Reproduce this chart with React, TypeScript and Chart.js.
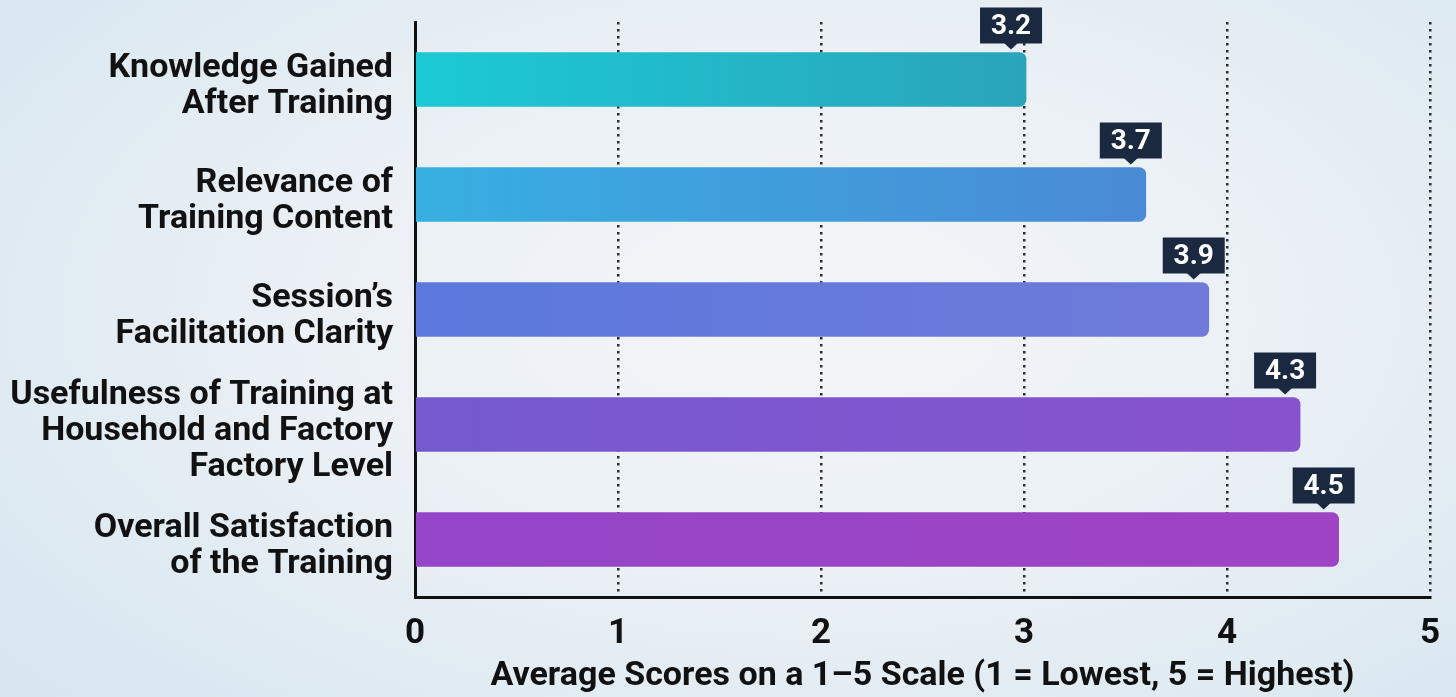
import React, { useEffect, useRef } from "react";
import { Chart, registerables } from "chart.js";

Chart.register(...registerables);

// ---------- data ----------
const categories: string[][] = [
  ["Knowledge Gained", "After Training"],
  ["Relevance of", "Training Content"],
  ["Session’s", "Facilitation Clarity"],
  ["Usefulness of Training at", "Household and Factory", "Factory Level"],
  ["Overall Satisfaction", "of the Training"],
];
// bar lengths as drawn in the picture
const barScores = [3.01, 3.6, 3.91, 4.36, 4.55];
// values printed in the callouts
const printedScores = ["3.2", "3.7", "3.9", "4.3", "4.5"];
const xMin = 0;
const xMax = 5;
const xStep = 1;
const axisTitle = "Average Scores on a 1–5 Scale (1 = Lowest, 5 = Highest)";
const barGradients: string[][] = [
  ["#1bcad5", "#2aa4ba"],
  ["#37afe1", "#4a8ad6"],
  ["#5b79dd", "#6f7ad9"],
  ["#7459cf", "#8752cd"],
  ["#9545c8", "#9e43c4"],
];

const FONT = "Roboto, 'Liberation Sans', sans-serif";

const calloutPlugin = {
  id: "callouts",
  afterDatasetsDraw(chart: any) {
    const meta = chart.getDatasetMeta(0);
    const ctx = chart.ctx as CanvasRenderingContext2D;
    meta.data.forEach((bar: any, i: number) => {
      const { x, y, height } = bar.getProps(["x", "y", "height"], true);
      const cx = x - 15;
      const top = y - height / 2;
      const boxH = 36;
      const boxW = 62;
      const boxBottom = top - 9;
      ctx.save();
      ctx.fillStyle = "#1a2940";
      ctx.fillRect(cx - boxW / 2, boxBottom - boxH, boxW, boxH);
      ctx.beginPath();
      ctx.moveTo(cx - 7, boxBottom - 0.5);
      ctx.lineTo(cx + 7, boxBottom - 0.5);
      ctx.lineTo(cx, boxBottom + 6);
      ctx.closePath();
      ctx.fill();
      ctx.fillStyle = "#ffffff";
      ctx.font = `bold 28px ${FONT}`;
      ctx.textAlign = "center";
      ctx.textBaseline = "middle";
      ctx.fillText(printedScores[i], cx, boxBottom - boxH / 2 + 1);
      ctx.restore();
    });
  },
};

export default function App() {
  const canvasRef = useRef<HTMLCanvasElement | null>(null);

  useEffect(() => {
    if (!canvasRef.current) return;
    const chart = new Chart(canvasRef.current, {
      type: "bar",
      data: {
        labels: categories as any,
        datasets: [
          {
            data: barScores,
            backgroundColor: (c: any) => {
              const ch = c.chart;
              const i = c.dataIndex ?? 0;
              const stops = barGradients[i] ?? barGradients[0];
              const xs = ch.scales && ch.scales.x;
              if (!ch.chartArea || !xs) return stops[0];
              const x0 = xs.getPixelForValue(0);
              const x1 = xs.getPixelForValue(barScores[i]);
              if (!isFinite(x0) || !isFinite(x1) || x1 <= x0) return stops[0];
              const g = ch.ctx.createLinearGradient(x0, 0, x1, 0);
              g.addColorStop(0, stops[0]);
              g.addColorStop(1, stops[1]);
              return g;
            },
            borderRadius: 7,
            borderSkipped: "start",
            barThickness: 54,
          } as any,
        ],
      },
      options: {
        indexAxis: "y",
        responsive: false,
        animation: false,
        layout: { padding: { top: 22, right: 26, left: 0, bottom: 0 } },
        plugins: {
          legend: { display: false },
          tooltip: { enabled: false },
        },
        scales: {
          x: {
            min: xMin,
            max: xMax,
            ticks: {
              stepSize: xStep,
              padding: 16,
              color: "#111111",
              font: { family: FONT, size: 35, weight: "bold" },
            },
            grid: {
              color: (c: any) => (c.tick && c.tick.value === 0 ? "rgba(0,0,0,0)" : "#2b2b2b"),
              lineWidth: 2.5,
              drawTicks: false,
            },
            border: { display: true, color: "#111111", width: 3, dash: [2.5, 4.5] },
            title: {
              display: true,
              text: axisTitle,
              align: "center",
              color: "#111111",
              font: { family: FONT, size: 34, weight: "bold" },
              padding: { top: 2, bottom: 0 },
            },
            afterFit: (s: any) => {
              s.height = 100;
              s.paddingLeft = 0;
              s.paddingRight = 0;
            },
          },
          y: {
            ticks: {
              color: "#111111",
              font: { family: FONT, size: 34, weight: "bold", lineHeight: 1.06 },
              padding: 22,
              labelOffset: 7,
            },
            grid: { display: false, drawTicks: false },
            border: { display: true, color: "#111111", width: 3 },
            afterFit: (s: any) => {
              s.width = 415;
              s.paddingTop = 0;
              s.paddingBottom = 0;
            },
          },
        },
      } as any,
      plugins: [calloutPlugin],
    });
    return () => chart.destroy();
  }, []);

  return (
    <div
      style={{
        position: "fixed",
        left: 0,
        top: 0,
        width: 1456,
        height: 697,
        overflow: "hidden",
        background:
          "radial-gradient(ellipse 75% 85% at 55% 45%, #f3f6f9 0%, #eaf0f5 45%, #d6e5ef 100%)",
      }}
    >
      <canvas ref={canvasRef} width={1456} height={697} style={{ display: "block" }} />
    </div>
  );
}
